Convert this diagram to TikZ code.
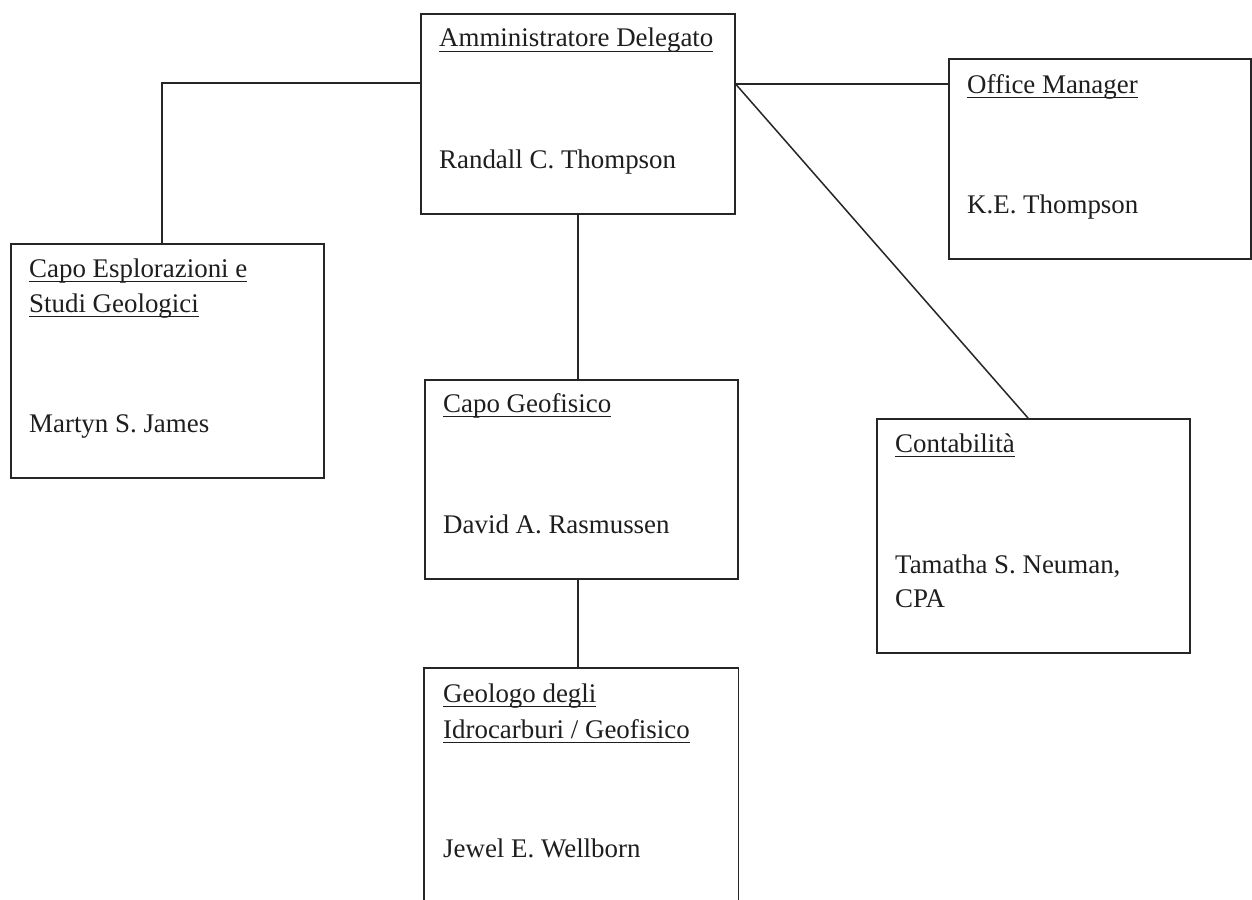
\documentclass[tikz,border=0pt]{standalone}
\usepackage{fontspec}
\setmainfont{Liberation Serif}
\newsavebox\ulsave
\newcommand\ulbox[1]{\sbox\ulsave{#1}\rlap{\rule[-5.4pt]{\wd\ulsave}{1.3pt}}\usebox\ulsave}
\definecolor{ink}{HTML}{262626}
\definecolor{txt}{HTML}{1E1E1E}
\tikzset{
  orgbox/.style={draw=ink, line width=1.6pt, rectangle, inner sep=0pt, anchor=north west},
  lbl/.style={anchor=base west, inner sep=0pt, text=txt, font=\fontsize{26.9pt}{35pt}\selectfont},
  link/.style={draw=ink, line width=1.5pt}
}
\begin{document}
\begin{tikzpicture}[x=1pt,y=-1pt]
\useasboundingbox (0,0) rectangle (1252,899);
\fill[white] (0,0) rectangle (1252,899);
% boxes
\node[orgbox, minimum width=314pt, minimum height=200pt] (ad) at (420,13) {};
\node[orgbox, minimum width=302pt, minimum height=200pt] (om) at (948,58) {};
\node[orgbox, minimum width=313pt, minimum height=234pt] (ce) at (10,243) {};
\node[orgbox, minimum width=313pt, minimum height=199pt] (cg) at (424,379) {};
\node[orgbox, minimum width=313pt, minimum height=234pt] (cont) at (876,418) {};
\node[orgbox, draw=none, minimum width=313pt, minimum height=232pt] (geo) at (424,668) {};
\draw[link, line width=1.6pt] (geo.south west) -- (geo.north west) -- (geo.north east) -- (geo.south east);
% texts
\node[lbl] (adT) at (439,47) {\ulbox{Amministratore Delegato}};
\node[lbl] (adN) at (439,168) {Randall C. Thompson};
\node[lbl] (omT) at (967,93) {\ulbox{Office Manager}};
\node[lbl] (omN) at (967,213) {K.E. Thompson};
\node[lbl] (ceT1) at (29,277) {\ulbox{Capo Esplorazioni e}};
\node[lbl] (ceT2) at (29,312) {\ulbox{Studi Geologici}};
\node[lbl] (ceN) at (29,432) {Martyn S. James};
\node[lbl] (cgT) at (443,412) {\ulbox{Capo Geofisico}};
\node[lbl] (cgN) at (443,533) {David A. Rasmussen};
\node[lbl] (contT) at (895,452) {\ulbox{Contabilità}};
\node[lbl] (contN1) at (895,573) {Tamatha S. Neuman,};
\node[lbl] (contN2) at (895,607) {CPA};
\node[lbl] (geoT1) at (443,702) {\ulbox{Geologo degli}};
\node[lbl] (geoT2) at (443,738) {\ulbox{Idrocarburi / Geofisico}};
\node[lbl] (geoN) at (443,857) {Jewel E. Wellborn};
% connectors
\coordinate (jl) at (162,83);
\coordinate (jr) at (734,84);
\coordinate (jd) at (1028,418);
\draw[link] (ad.west |- jl) -- (jl) -- (ce.north -| jl);
\draw[link] (ad.east |- jr) -- (om.west |- jr);
\draw[link] (ad.east |- jr) -- (cont.north -| jd);
\draw[link] (ad.south) -- (cg.north -| ad.south);
\draw[link] (cg.south -| ad.south) -- (geo.north -| ad.south);
\end{tikzpicture}
\end{document}
